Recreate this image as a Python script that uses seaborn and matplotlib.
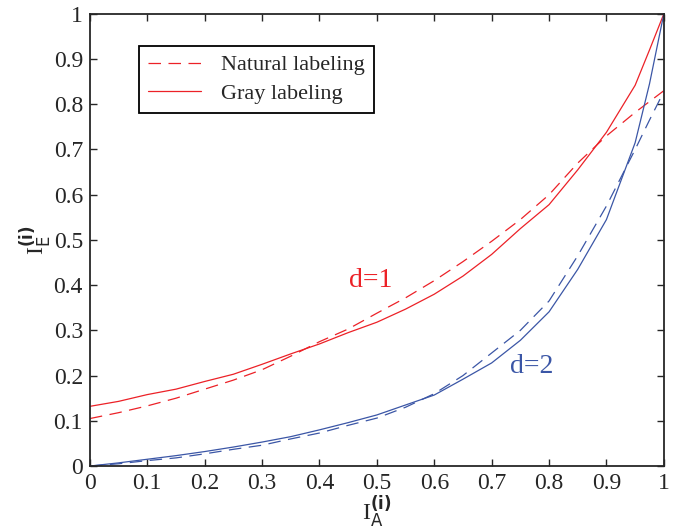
import pandas as pd
from matplotlib import pyplot as plt
import seaborn as sb

sb.set_style('ticks')
plt.rcParams['font.family'] = ['Liberation Serif', 'DejaVu Serif']
plt.rcParams['mathtext.fontset'] = 'custom'
plt.rcParams['mathtext.rm'] = 'Liberation Serif'
plt.rcParams['mathtext.sf'] = 'DejaVu Sans'
plt.rcParams['mathtext.bf'] = 'DejaVu Sans:bold'

# mutual information curves
ia = [0, 0.05, 0.1, 0.15, 0.2, 0.25, 0.3, 0.35, 0.4, 0.45, 0.5,
      0.55, 0.6, 0.65, 0.7, 0.75, 0.8, 0.85, 0.9, 0.95, 0.975, 1.0]
nat_d1 = [0.105, 0.118, 0.133, 0.150, 0.170, 0.190, 0.213, 0.243, 0.275, 0.303, 0.338,
          0.372, 0.410, 0.452, 0.497, 0.545, 0.600, 0.670, 0.730, 0.782, 0.806, 0.830]
gray_d1 = [0.132, 0.143, 0.158, 0.170, 0.187, 0.203, 0.225, 0.248, 0.270, 0.295, 0.318,
           0.347, 0.380, 0.420, 0.468, 0.525, 0.578, 0.655, 0.738, 0.842, 0.920, 1.0]
nat_d2 = [0.0, 0.005, 0.012, 0.018, 0.027, 0.037, 0.046, 0.060, 0.073, 0.090, 0.106,
          0.130, 0.160, 0.200, 0.250, 0.300, 0.365, 0.465, 0.575, 0.700, 0.765, 0.828]
gray_d2 = [0.0, 0.007, 0.015, 0.023, 0.032, 0.042, 0.053, 0.065, 0.080, 0.096, 0.113,
           0.135, 0.157, 0.192, 0.228, 0.278, 0.341, 0.435, 0.545, 0.715, 0.845, 1.0]

df = pd.DataFrame({'IA': ia, 'nat_d1': nat_d1, 'gray_d1': gray_d1,
                   'nat_d2': nat_d2, 'gray_d2': gray_d2})

red = '#ec2127'
blue = '#3b56a6'
dash = (0, (10, 6))

fig = plt.figure(figsize=(6.76, 5.32), dpi=100)
ax = fig.add_axes([0.133, 0.124, 0.849, 0.85])

sb.lineplot(data=df, x='IA', y='nat_d1', color=red, lw=0.9, ls=dash,
            label='Natural labeling', ax=ax)
sb.lineplot(data=df, x='IA', y='gray_d1', color=red, lw=0.9,
            label='Gray labeling', ax=ax)
sb.lineplot(data=df, x='IA', y='nat_d2', color=blue, lw=0.9, ls=dash,
            legend=False, ax=ax)
sb.lineplot(data=df, x='IA', y='gray_d2', color=blue, lw=0.9, legend=False, ax=ax)

ax.set_xlim(0, 1)
ax.set_ylim(0, 1)
ticks = [i / 10 for i in range(11)]
ax.set_xticks(ticks)
ax.set_yticks(ticks)
ax.set_xticklabels(['0'] + ['%.1f' % t for t in ticks[1:-1]] + ['1'])
ax.set_yticklabels(['0'] + ['%.1f' % t for t in ticks[1:-1]] + ['1'])
ax.tick_params(direction='in', top=True, right=True, length=5, width=1,
               labelsize=17, pad=5)
for s in ax.spines.values():
    s.set_linewidth(1.3)

ax.set_xlabel(r'$\mathrm{I}_{\mathsf{A}}^{\mathbf{(i)}}$', fontsize=17, labelpad=0)
ax.set_ylabel(r'$\mathrm{I}_{\mathsf{E}}^{\mathbf{(i)}}$', fontsize=17, labelpad=0)

ax.text(0.49, 0.41, 'd=1', color=red, fontsize=20, ha='center', va='center')
ax.text(0.77, 0.22, 'd=2', color=blue, fontsize=20, ha='center', va='center')

leg = ax.legend(loc='upper left', bbox_to_anchor=(0.085, 0.929), fontsize=16,
                frameon=True, fancybox=False, edgecolor='black', framealpha=1,
                borderaxespad=0, handlelength=2.4, handletextpad=0.9,
                borderpad=0.4, labelspacing=0.35)
leg.get_frame().set_linewidth(1.3)

fig.savefig('out.png', dpi=100)
